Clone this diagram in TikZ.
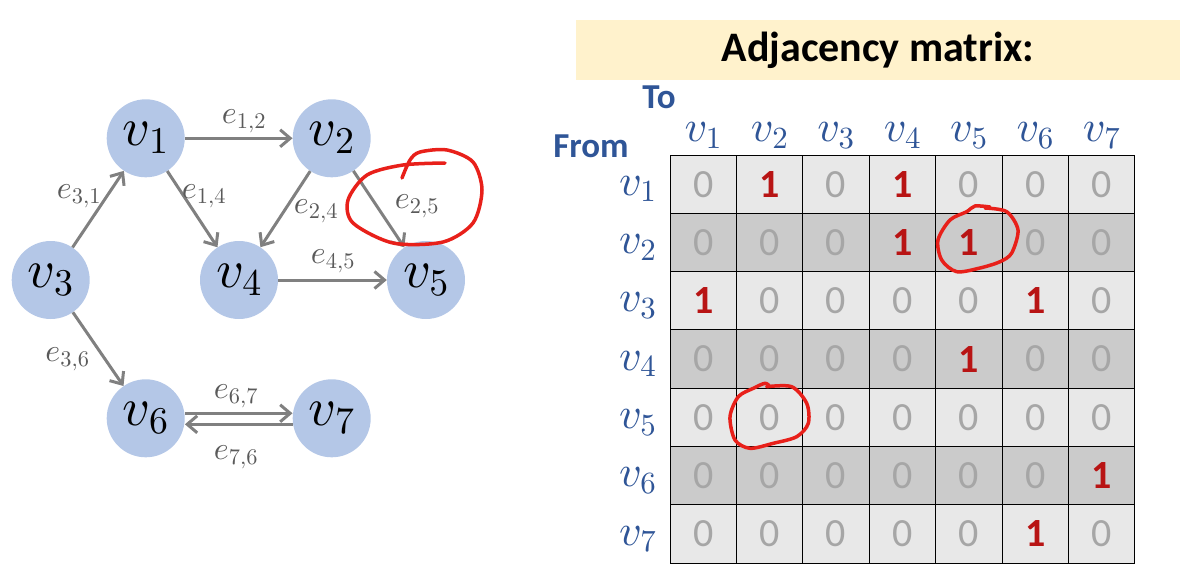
\documentclass[tikz,border=0pt]{standalone}
\usepackage[no-math]{fontspec}
\setmainfont{Carlito}
\usetikzlibrary{arrows.meta,positioning}
\DeclareFontShape{OML}{cmm}{m}{it}{<->cmmi10}{}
\DeclareFontShape{OT1}{cmr}{m}{n}{<->cmr10}{}
\DeclareFontShape{OMS}{cmsy}{m}{n}{<->cmsy10}{}

\definecolor{nodeblue}{HTML}{B4C7E7}
\definecolor{edgegray}{HTML}{808080}
\definecolor{labelgray}{HTML}{5A5A5A}
\definecolor{headblue}{HTML}{2F5597}
\definecolor{zerogray}{HTML}{A6A6A6}
\definecolor{onered}{HTML}{B81414}
\definecolor{markred}{HTML}{E8201A}
\definecolor{titleyellow}{HTML}{FFF2CC}
\definecolor{row1}{HTML}{E8E8E8}
\definecolor{row0}{HTML}{CBCBCB}

\tikzset{
  vertex/.style={circle, fill=nodeblue, minimum size=78pt, inner sep=0pt,
    font=\fontsize{54}{54}\selectfont},
  edge/.style={->, draw=edgegray, line width=3pt},
  elabel/.style={text=labelgray, inner sep=0pt, font=\fontsize{32}{32}\selectfont},
  cell/.style={draw=black, line width=1pt, minimum width=66.4pt,
    minimum height=58.3pt, inner sep=0pt, font=\fontsize{40}{40}\selectfont},
  bit0/.style={text=zerogray},
  bit1/.style={text=onered, font=\fontsize{40}{40}\selectfont\bfseries},
  collab/.style={text=headblue, inner sep=0pt, font=\fontsize{44}{44}\selectfont},
  tofrom/.style={text=headblue, inner sep=0pt, font=\fontsize{35}{35}\selectfont\bfseries},
  titlebox/.style={fill=titleyellow, minimum width=604pt, minimum height=60pt,
    font=\fontsize{42}{42}\selectfont\bfseries},
  redmark/.style={draw=markred, line width=3.5pt, line cap=round, line join=round}
}

\begin{document}
\begin{tikzpicture}[x=1pt,y=-1pt,>={Straight Barb[length=10pt,width=17pt]}]
  \useasboundingbox (0,0) rectangle (1194,581);

  % graph
  \node[vertex] (v1) at (145.7,138.3) {$v_1$};
  \node[vertex] (v2) at (331.7,138.3) {$v_2$};
  \node[vertex] (v3) at (50.7,280) {$v_3$};
  \node[vertex] (v4) at (239,280) {$v_4$};
  \node[vertex] (v5) at (426,280) {$v_5$};
  \node[vertex] (v6) at (145.7,418.3) {$v_6$};
  \node[vertex] (v7) at (331.7,418.3) {$v_7$};

  \draw[edge] (v1) -- (v2);
  \draw[edge] (v1) -- (v4);
  \draw[edge] (v2) -- (v4);
  \draw[edge] (v2) -- (v5);
  \draw[edge] (v3) -- (v1);
  \draw[edge] (v4) -- (v5);
  \draw[edge] (v3) -- (v6);
  \draw[edge] ([yshift=5pt]v6.east) -- ([yshift=5pt]v7.west);
  \draw[edge] ([yshift=-6pt]v7.west) -- ([yshift=-6pt]v6.east);

  \node[elabel] (e12) at (244,121.5) {$e_{1,2}$};
  \node[elabel] (e31) at (79,196) {$e_{3,1}$};
  \node[elabel] (e14) at (204,196) {$e_{1,4}$};
  \node[elabel] (e24) at (316,211) {$e_{2,4}$};
  \node[elabel] (e25) at (417,206) {$e_{2,5}$};
  \node[elabel] (e45) at (333,261) {$e_{4,5}$};
  \node[elabel] (e36) at (67.5,359) {$e_{3,6}$};
  \node[elabel] (e67) at (236,396) {$e_{6,7}$};
  \node[elabel] (e76) at (236,457) {$e_{7,6}$};

  % adjacency matrix
  \node[titlebox] (title) at (878,50) {Adjacency matrix:};
  \node[tofrom] (to) at (659,97) {To};
  \node[tofrom] (from) at (591,146) {From};

  \foreach \row [count=\i] in {{0,1,0,1,0,0,0},{0,0,0,1,1,0,0},{1,0,0,0,0,1,0},
      {0,0,0,0,1,0,0},{0,0,0,0,0,0,0},{0,0,0,0,0,0,1},{0,0,0,0,0,1,0}}{
    \pgfmathtruncatemacro\shade{mod(\i,2)}
    \foreach \val [count=\j] in \row
      \node[cell, fill=row\shade, bit\val] (c\i\j)
        at ({703.2+66.4*(\j-1)},{184.2+58.3*(\i-1)}) {\val};
  }
  \foreach \i in {1,...,7}
    \node[collab, anchor=east] (r\i) at ([xshift=-13pt,yshift=-5pt]c\i1.west) {$v_{\i}$};
  \foreach \j in {1,...,7}
    \node[collab, anchor=base] (h\j) at ([yshift=13pt]c1\j.north) {$v_{\j}$};

  % hand-drawn marks
  \draw[redmark] plot[smooth] coordinates {(445,163) (403,165) (367,175) (348,200)
    (353,223) (393,243) (443,242) (473,223) (482,190) (473,162) (447,150)
    (420,152) (410,160) (402,178)};
  \draw[redmark] plot[smooth] coordinates {(985,208) (1006.7,211.7) (1018,230)
    (1011.7,253) (1000,261.7) (980,268) (956.7,271.7) (941.7,260) (938,240)
    (950,220) (966.7,211.7) (975,206) (990,207)};
  \draw[redmark] plot[smooth] coordinates {(766.7,386.7) (791.7,386.7)
    (806.7,403.3) (808.3,423.3) (796.7,436.7) (773.3,443.3) (750,448.3)
    (735,440) (730,416.7) (738.3,396.7) (753.3,388.3) (765,383.3) (770,386.7)};
\end{tikzpicture}
\end{document}
